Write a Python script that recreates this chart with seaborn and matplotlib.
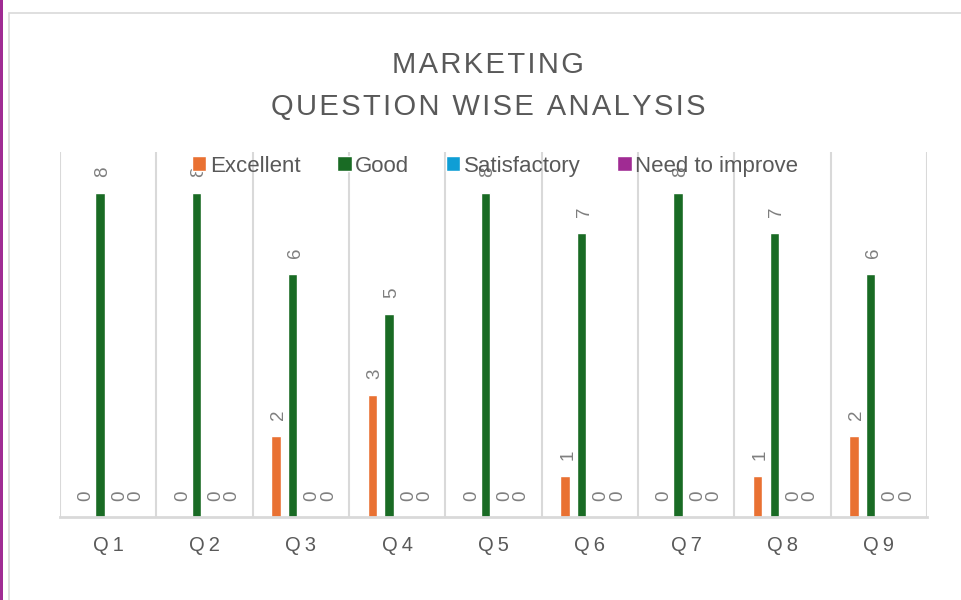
# Marketing - question wise analysis, clustered columns per question
import pandas as pd
import numpy as np
import matplotlib.pyplot as plt
import matplotlib.patches as mpatches
import seaborn as sns

questions = ['Q1', 'Q2', 'Q3', 'Q4', 'Q5', 'Q6', 'Q7', 'Q8', 'Q9']
ratings = ['Excellent', 'Good', 'Satisfactory', 'Need to improve']
excellent = [0, 0, 2, 3, 0, 1, 0, 1, 2]
good = [8, 8, 6, 5, 8, 7, 8, 7, 6]
satisfactory = [0, 0, 0, 0, 0, 0, 0, 0, 0]
need_improve = [0, 0, 0, 0, 0, 0, 0, 0, 0]
colors = ['#E97132', '#196B24', '#0F9ED5', '#A02B93']

df = pd.DataFrame({'question': questions, 'Excellent': excellent, 'Good': good,
                   'Satisfactory': satisfactory, 'Need to improve': need_improve})
df = df.melt(id_vars='question', var_name='rating', value_name='count')


def spaced(s, sep='\u200a'):
    # mimic Excel letter spacing
    return sep.join(list(s))


sns.set_theme(style='white')
plt.rcParams['font.family'] = ['Liberation Sans', 'DejaVu Sans']

fig = plt.figure(figsize=(9.61, 6), dpi=100)
ax = fig.add_axes([60 / 961, 1 - 517 / 600, 867 / 961, 365 / 600])

sns.barplot(data=df, x='question', y='count', hue='rating', hue_order=ratings,
            palette=colors, width=0.69, gap=0.44, ax=ax, saturation=1)

for cont in ax.containers:
    anns = ax.bar_label(cont, padding=11.5, rotation=90, fontsize=13.5, color='#7F7F7F')
    for a in anns:
        a.xyann = (2, 11.5)  # nudge right a little like Excel

ax.set_xlim(-0.5, 8.5)
ax.set_ylim(0, 9)
ax.set_yticks([])
ax.set_xticks(range(len(questions)))
ax.set_xticklabels([spaced(q, '\u2009') for q in questions], fontsize=14.5, color='#595959')
ax.set_xticks(np.arange(-0.5, 9, 1), minor=True)
ax.tick_params(axis='x', which='both', length=0, pad=14)
ax.grid(True, which='minor', axis='x', color='#D9D9D9', lw=1.5)
ax.set_axisbelow(True)
ax.set_xlabel('')
ax.set_ylabel('')
for side in ['left', 'right', 'top']:
    ax.spines[side].set_visible(False)
ax.spines['bottom'].set_color('#D9D9D9')
ax.spines['bottom'].set_linewidth(2)

handles, labels = ax.get_legend_handles_labels()
ax.legend(handles, labels, loc='center', bbox_to_anchor=(0.5017, 0.9616), ncol=4,
          frameon=False, fontsize=16, handlelength=0.66, handleheight=0.66,
          handletextpad=0.15, columnspacing=1.65, labelcolor='#595959')

# title
fig.text(488 / 961, 1 - 73 / 600, spaced('MARKETING'), ha='center', va='baseline',
         fontsize=21, color='#595959')
fig.text(488 / 961, 1 - 115 / 600, spaced('QUESTION WISE ANALYSIS'), ha='center',
         va='baseline', fontsize=21, color='#595959')

# chart frame and left accent line
fig.add_artist(mpatches.Rectangle((9 / 961, -0.05), 1.0, 1 - 13 / 600 + 0.05,
                                  transform=fig.transFigure, fill=False,
                                  edgecolor='#D9D9D9', lw=1.2))
fig.add_artist(mpatches.Rectangle((0, 0), 3 / 961, 1, transform=fig.transFigure,
                                  color='#A02B93', lw=0))

fig.savefig('out.png', dpi=100)
